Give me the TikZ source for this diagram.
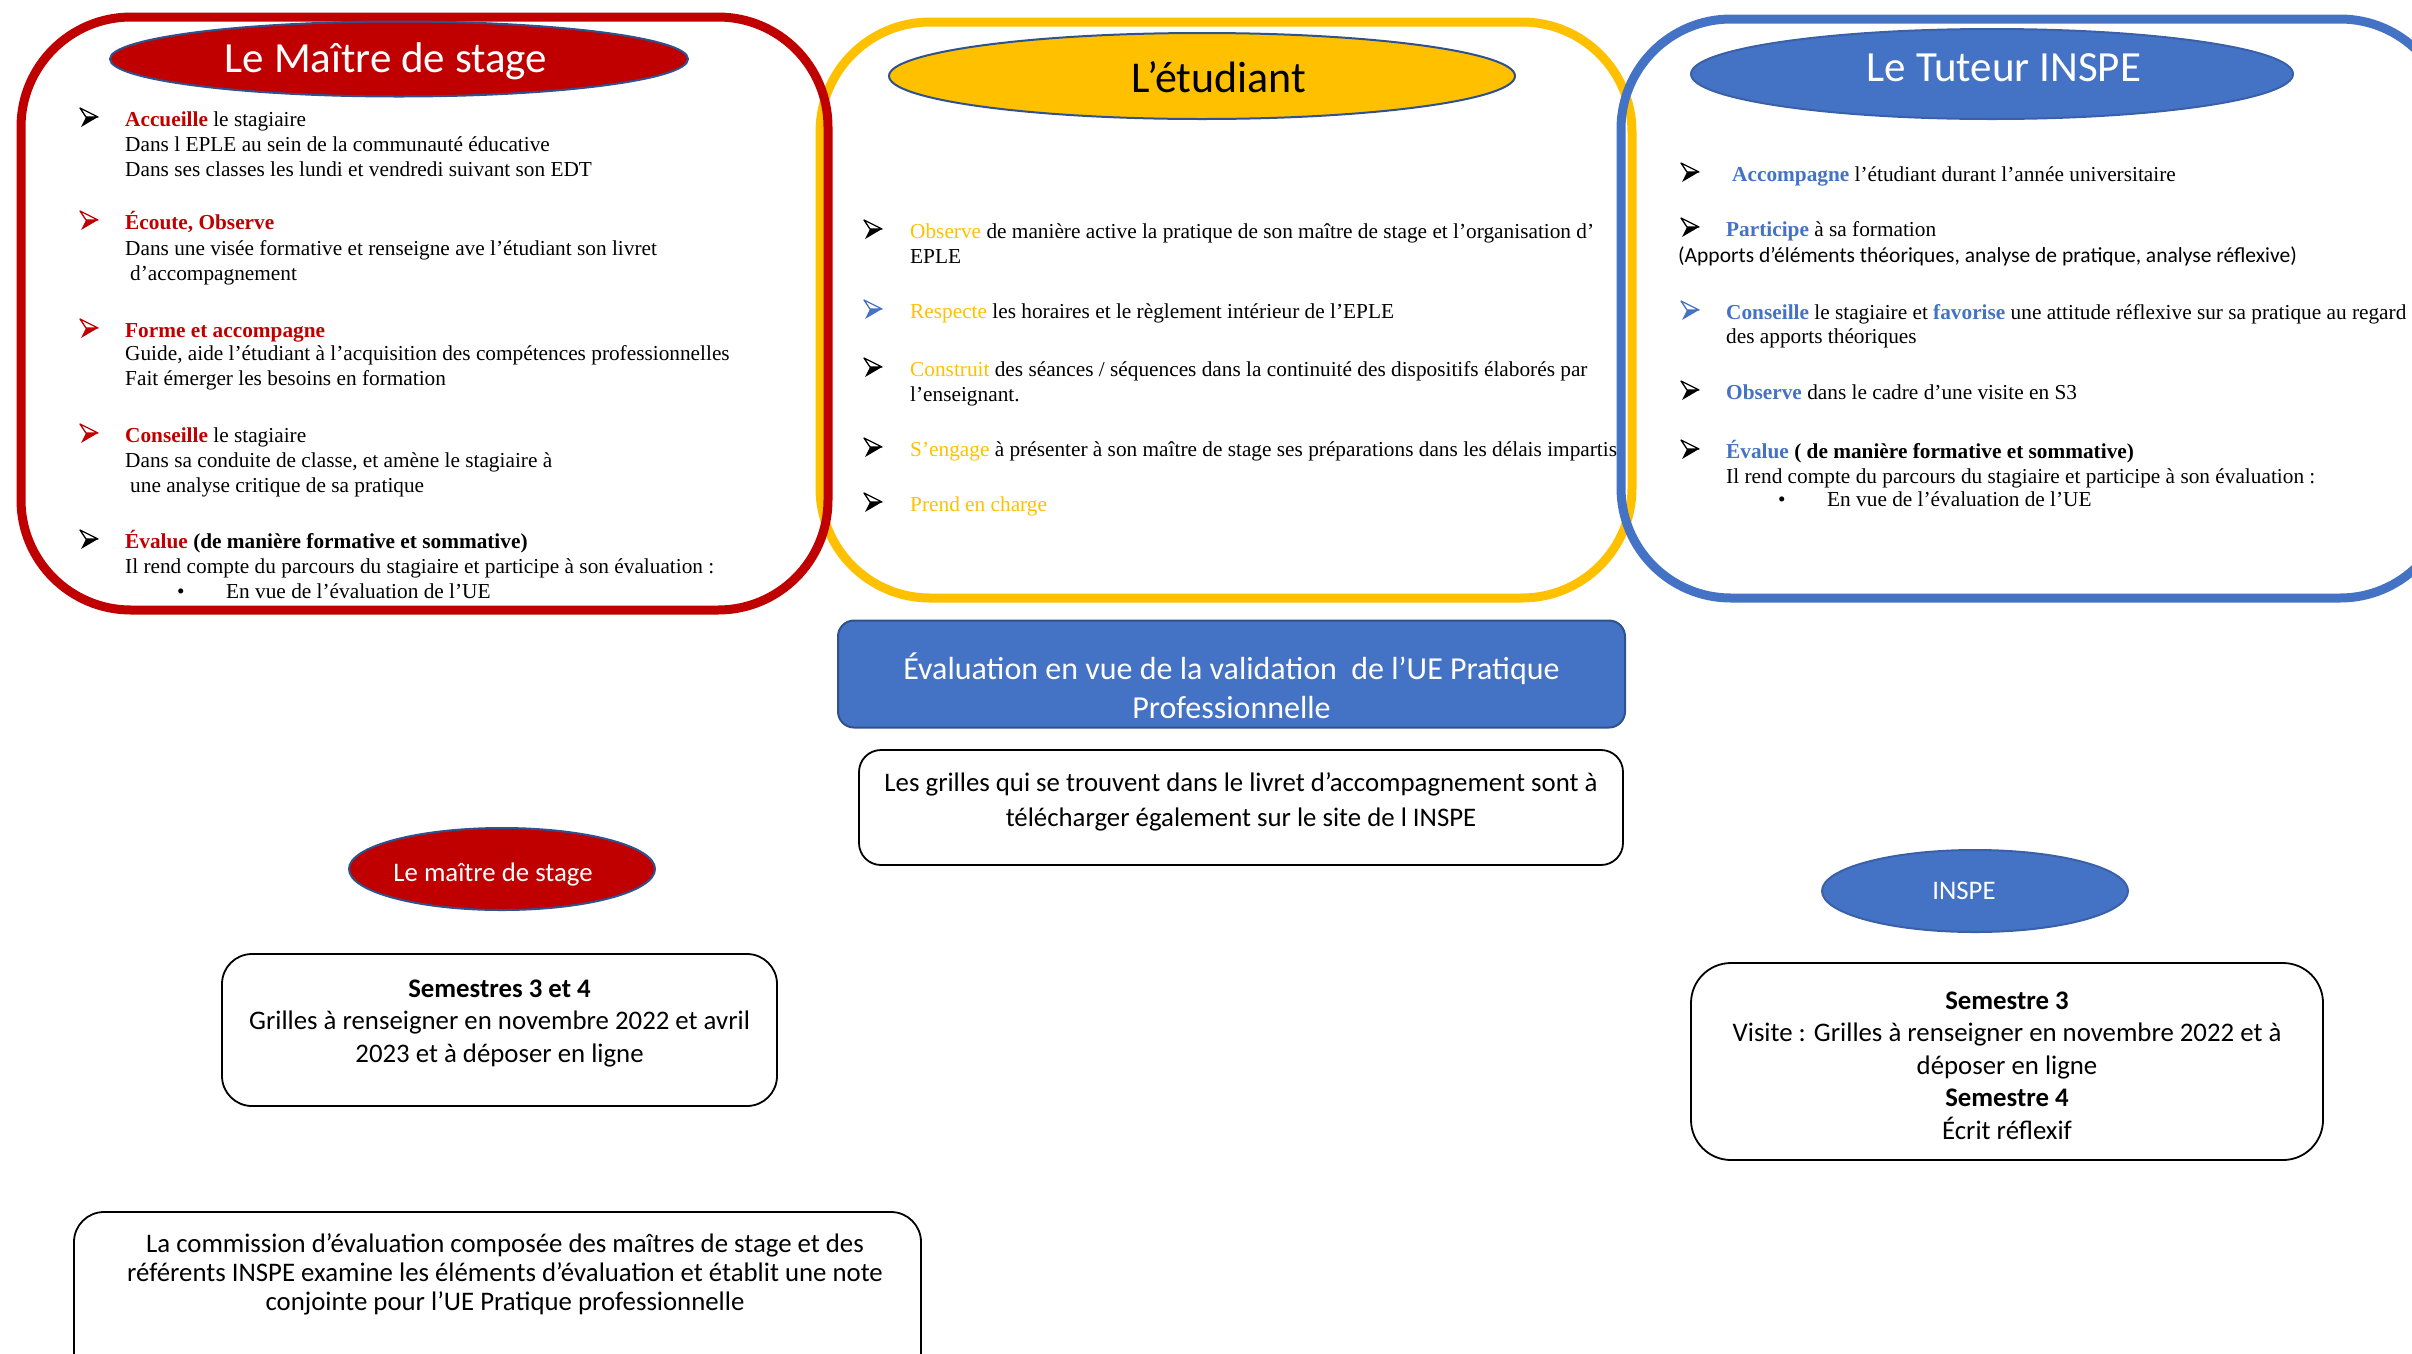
\documentclass[tikz,border=0pt]{standalone}
\usepackage{fontspec}
\setmainfont{Liberation Serif}
\newfontfamily\calf{Carlito}
\usetikzlibrary{shapes.geometric}
\definecolor{myred}{HTML}{C00000}
\definecolor{myyel}{HTML}{FFC000}
\definecolor{myblue}{HTML}{4472C4}
\definecolor{edgeblue}{HTML}{2F528F}
\newcommand\kr[1]{\textcolor{myred}{\textbf{#1}}}
\newcommand\ky[1]{\textcolor{myyel}{#1}}
\newcommand\kb[1]{\textcolor{myblue}{\textbf{#1}}}
\begin{document}
\begin{tikzpicture}[x=1pt,y=-1pt,
  itm/.style={anchor=base west,inner sep=0pt,font=\fontsize{21.3}{25}\selectfont},
  arrb/.pic={\draw[line width=1.3pt,line join=round] (0,-9) -- (18,0) -- (6,0) -- cycle;
             \fill (6,0) -- (18,0) -- (1,10) -- cycle;},
  frame/.style={line width=9pt,rounded corners=110pt},
  title/.style={ellipse,inner sep=0pt,line width=2pt},
  sml/.style={anchor=base,inner sep=0pt,font=\calf\fontsize{26.8}{32}\selectfont},
  wbox/.style={draw=black,line width=1.8pt,fill=white}]
\useasboundingbox (0,0) rectangle (2412,1353);
% frames
\draw[frame,myyel] (820,22) rectangle (1632,598);
\draw[frame,myred] (21,17) rectangle (828,610);
\draw[frame,myblue] (1621,19) rectangle (2450,598);
% titles
\node[title,fill=myred,draw=edgeblue,minimum width=578pt,minimum height=75pt] (tms) at (399,59) {};
\node[text=white,font=\calf\fontsize{43}{50}\selectfont,inner sep=0pt] (tmst) at (386,61) {Le Maître de stage};
\node[title,fill=myyel,draw=edgeblue,minimum width=626pt,minimum height=86pt] (tet) at (1202,76) {};
\node[text=black,font=\calf\fontsize{44}{52}\selectfont,inner sep=0pt] (tett) at (1219,77) {L’étudiant};
\node[title,fill=myblue,draw=myblue!85!black,minimum width=602pt,minimum height=90pt] (ttu) at (1992,74) {};
\node[text=white,font=\calf\fontsize{43}{50}\selectfont,inner sep=0pt] (ttut) at (2004,68) {Le Tuteur INSPE};
% red list
\pic[color=black] at (80,117) {arrb};
\node[itm] (r1) at (125,126) {\kr{Accueille} le stagiaire};
\node[itm] (r2) at (125,151) {Dans l EPLE au sein de la communauté éducative};
\node[itm] (r3) at (125,176) {Dans ses classes les lundi et vendredi suivant son EDT};
\pic[color=myred] at (80,220) {arrb};
\node[itm] (r4) at (125,229) {\kr{Écoute, Observe}};
\node[itm] (r5) at (125,255) {Dans une visée formative et renseigne ave l’étudiant son livret};
\node[itm] (r6) at (130,280) {d’accompagnement};
\pic[color=myred] at (80,328) {arrb};
\node[itm] (r7) at (125,337) {\kr{Forme et accompagne}};
\node[itm] (r8) at (125,360) {Guide, aide l’étudiant à l’acquisition des compétences professionnelles};
\node[itm] (r9) at (125,385) {Fait émerger les besoins en formation};
\pic[color=myred] at (80,433) {arrb};
\node[itm] (r10) at (125,442) {\kr{Conseille} le stagiaire};
\node[itm] (r11) at (125,467) {Dans sa conduite de classe, et amène le stagiaire à};
\node[itm] (r12) at (130,492) {une analyse critique de sa pratique};
\pic[color=black] at (80,539) {arrb};
\node[itm] (r13) at (125,548) {\kr{Évalue} \textbf{(de manière formative et sommative)}};
\node[itm] (r14) at (125,573) {Il rend compte du parcours du stagiaire et participe à son évaluation :};
\node[itm] (rd) at (177,598) {•};
\node[itm] (r15) at (226,598) {En vue de l’évaluation de l’UE};
% yellow list
\pic[color=black] at (864,229) {arrb};
\node[itm] (y1) at (910,238) {\ky{Observe} de manière active la pratique de son maître de stage et l’organisation d’};
\node[itm] (y2) at (910,263) {EPLE};
\pic[color=myblue] at (864,309) {arrb};
\node[itm] (y3) at (910,318) {\ky{Respecte} les horaires et le règlement intérieur de l’EPLE};
\pic[color=black] at (864,367) {arrb};
\node[itm] (y4) at (910,376) {\ky{Construit} des séances / séquences dans la continuité des dispositifs élaborés par};
\node[itm] (y5) at (910,401) {l’enseignant.};
\pic[color=black] at (864,447) {arrb};
\node[itm] (y6) at (910,456) {\ky{S’engage} à présenter à son maître de stage ses préparations dans les délais impartis};
\pic[color=black] at (864,502) {arrb};
\node[itm] (y7) at (910,511) {\ky{Prend en charge}};
% blue list
\pic[color=black] at (1681,172) {arrb};
\node[itm] (u1) at (1732,181) {\kb{Accompagne} l’étudiant durant l’année universitaire};
\pic[color=black] at (1681,227) {arrb};
\node[itm] (u2) at (1726,236) {\kb{Participe} à sa formation};
\node[itm,font=\calf\fontsize{21.5}{25}\selectfont] (u3) at (1678,262) {(Apports d’éléments théoriques, analyse de pratique, analyse réflexive)};
\pic[color=myblue] at (1681,310) {arrb};
\node[itm] (u4) at (1726,319) {\kb{Conseille} le stagiaire et \kb{favorise} une attitude réflexive sur sa pratique au regard};
\node[itm] (u5) at (1726,343) {des apports théoriques};
\pic[color=black] at (1681,390) {arrb};
\node[itm] (u6) at (1726,399) {\kb{Observe} dans le cadre d’une visite en S3};
\pic[color=black] at (1681,449) {arrb};
\node[itm] (u7) at (1726,458) {\kb{Évalue} \textbf{( de manière formative et sommative)}};
\node[itm] (u8) at (1726,483) {Il rend compte du parcours du stagiaire et participe à son évaluation :};
\node[itm] (ud) at (1778,506) {•};
\node[itm] (u9) at (1827,506) {En vue de l’évaluation de l’UE};
% evaluation box
\node[draw=edgeblue,fill=myblue,line width=2pt,rounded corners=16pt,minimum width=787pt,minimum height=107pt,inner sep=0pt] (eval) at (1231.5,674) {};
\node[anchor=base,inner sep=0pt,text=white,font=\calf\fontsize{32}{38}\selectfont] (ev1) at (1231.5,679) {Évaluation en vue de la validation\ \ de l’UE Pratique};
\node[anchor=base,inner sep=0pt,text=white,font=\calf\fontsize{32}{38}\selectfont] (ev2) at (1231.5,718) {Professionnelle};
% grilles box
\node[wbox,rounded corners=22pt,minimum width=764pt,minimum height=115pt,inner sep=0pt] (gr) at (1241,807.5) {};
\node[sml] (gr1) at (1241,791) {Les grilles qui se trouvent dans le livret d’accompagnement sont à};
\node[sml] (gr2) at (1241,826) {télécharger également sur le site de l INSPE};
% maitre de stage small
\node[title,fill=myred,draw=edgeblue,minimum width=306pt,minimum height=82pt] (ems) at (502,869) {};
\node[text=white,font=\calf\fontsize{26.8}{32}\selectfont,inner sep=0pt] (emst) at (493,874) {Le maître de stage};
\node[wbox,rounded corners=30pt,minimum width=555pt,minimum height=152pt,inner sep=0pt] (sms) at (499.5,1030) {};
\node[sml] (sms1) at (499.5,997) {\textbf{Semestres 3 et 4}};
\node[sml] (sms2) at (499.5,1029) {Grilles à renseigner en novembre 2022 et avril};
\node[sml] (sms3) at (499.5,1062) {2023 et à déposer en ligne};
% INSPE small
\node[title,fill=myblue,draw=myblue!85!black,minimum width=306pt,minimum height=82pt] (ein) at (1975,891) {};
\node[text=white,font=\calf\fontsize{26.8}{32}\selectfont,inner sep=0pt] (eint) at (1964,891) {INSPE};
\node[wbox,rounded corners=40pt,minimum width=632pt,minimum height=197pt,inner sep=0pt] (sin) at (2007,1061.5) {};
\node[sml] (sin1) at (2007,1009) {\textbf{Semestre 3}};
\node[sml] (sin2) at (2007,1041) {Visite : Grilles à renseigner en novembre 2022 et à};
\node[sml] (sin3) at (2007,1074) {déposer en ligne};
\node[sml] (sin4) at (2007,1106) {\textbf{Semestre 4}};
\node[sml] (sin5) at (2007,1139) {Écrit réflexif};
% commission box
\draw[wbox,rounded corners=30pt] (74,1212) rectangle (921,1420);
\node[sml] (c1) at (505,1252) {La commission d’évaluation composée des maîtres de stage et des};
\node[sml] (c2) at (505,1281) {référents INSPE examine les éléments d’évaluation et établit une note};
\node[sml] (c3) at (505,1310) {conjointe pour l’UE Pratique professionnelle};
\end{tikzpicture}
\end{document}
